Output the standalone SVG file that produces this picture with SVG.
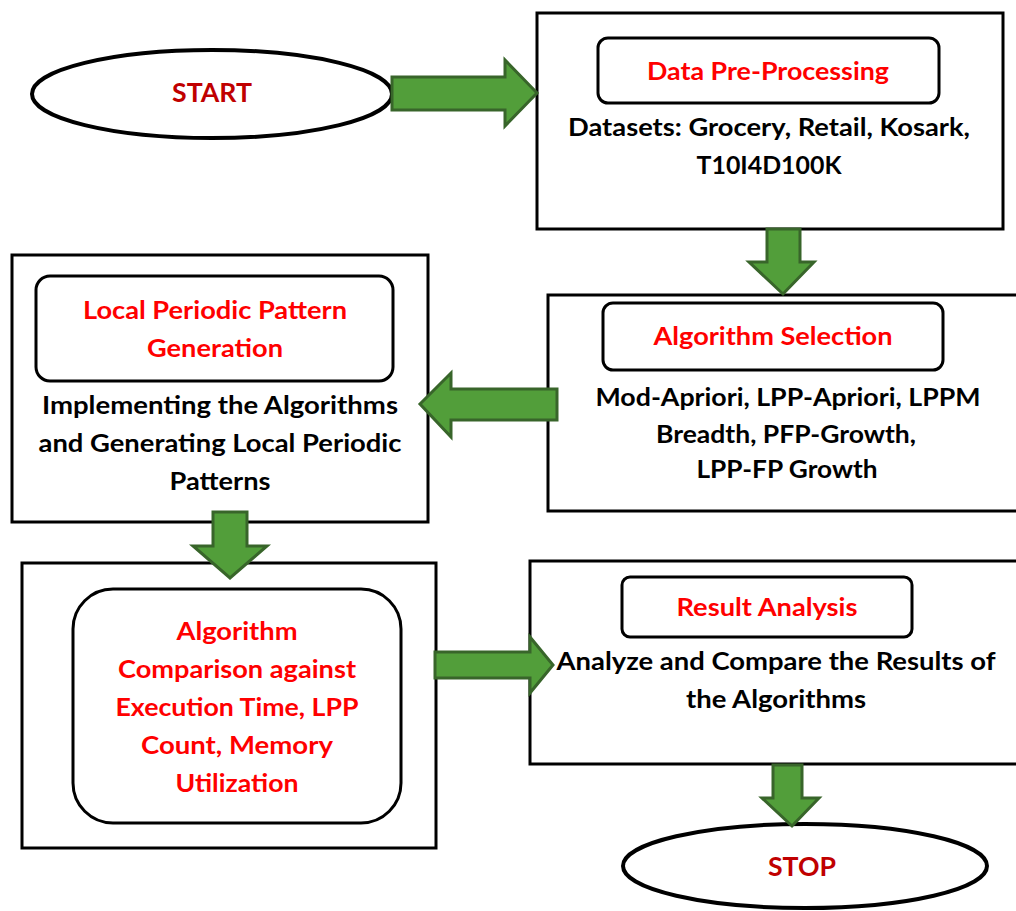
<svg xmlns="http://www.w3.org/2000/svg" width="1016" height="911" viewBox="0 0 1016 911">
<style>
.box{fill:#fff;stroke:#000;stroke-width:3}
.inner{fill:#fff;stroke:#000;stroke-width:3}
.oval{fill:#fff;stroke:#000;stroke-width:4}
.arr{fill:#529E3A;stroke:#38652A;stroke-width:3;stroke-linejoin:miter}
text{font-family:Lato,"Open Sans","Liberation Sans",sans-serif;font-weight:bold;font-size:24px;text-anchor:middle}
.t{fill:#FF0000}
.b{fill:#000}
.d{fill:#C00000;font-size:26px}
</style>
<rect width="1016" height="911" fill="#fff"/>
<g id="start">
<ellipse class="oval" cx="212" cy="94" rx="180" ry="44"/>
<text class="d" x="212" y="102" textLength="80" lengthAdjust="spacingAndGlyphs">START</text>
</g>
<g id="preprocessing">
<rect class="box" x="537" y="13" width="466" height="216"/>
<rect class="inner" x="598" y="38" width="341" height="65" rx="10"/>
<text class="t" x="768" y="80" textLength="242" lengthAdjust="spacingAndGlyphs">Data Pre-Processing</text>
<text class="b" x="769" y="136" textLength="402" lengthAdjust="spacingAndGlyphs">Datasets: Grocery, Retail, Kosark,</text>
<text class="b" x="769" y="174" textLength="145" lengthAdjust="spacingAndGlyphs">T10I4D100K</text>
</g>
<g id="selection">
<rect class="box" x="548" y="295" width="470" height="216"/>
<rect class="inner" x="603" y="303" width="340" height="67" rx="10"/>
<text class="t" x="773" y="345" textLength="239" lengthAdjust="spacingAndGlyphs">Algorithm Selection</text>
<text class="b" x="788" y="406" textLength="385" lengthAdjust="spacingAndGlyphs">Mod-Apriori, LPP-Apriori, LPPM</text>
<text class="b" x="786" y="443" textLength="260" lengthAdjust="spacingAndGlyphs">Breadth, PFP-Growth,</text>
<text class="b" x="787" y="478" textLength="181" lengthAdjust="spacingAndGlyphs">LPP-FP Growth</text>
</g>
<g id="generation">
<rect class="box" x="12" y="255" width="416" height="267"/>
<rect class="inner" x="36" y="276" width="357" height="105" rx="14"/>
<text class="t" x="215" y="319" textLength="264" lengthAdjust="spacingAndGlyphs">Local Periodic Pattern</text>
<text class="t" x="215" y="357" textLength="136" lengthAdjust="spacingAndGlyphs">Generation</text>
<text class="b" x="220" y="414" textLength="356" lengthAdjust="spacingAndGlyphs">Implementing the Algorithms</text>
<text class="b" x="220" y="452" textLength="363" lengthAdjust="spacingAndGlyphs">and Generating Local Periodic</text>
<text class="b" x="220" y="490" textLength="101" lengthAdjust="spacingAndGlyphs">Patterns</text>
</g>
<g id="comparison">
<rect class="box" x="22" y="563" width="414" height="285"/>
<rect class="inner" x="73" y="589" width="328" height="234" rx="40"/>
<text class="t" x="237" y="640" textLength="121" lengthAdjust="spacingAndGlyphs">Algorithm</text>
<text class="t" x="237" y="678" textLength="238" lengthAdjust="spacingAndGlyphs">Comparison against</text>
<text class="t" x="237" y="716" textLength="243" lengthAdjust="spacingAndGlyphs">Execution Time, LPP</text>
<text class="t" x="237" y="754" textLength="192" lengthAdjust="spacingAndGlyphs">Count, Memory</text>
<text class="t" x="237" y="792" textLength="123" lengthAdjust="spacingAndGlyphs">Utilization</text>
</g>
<g id="analysis">
<rect class="box" x="530" y="561" width="488" height="203"/>
<rect class="inner" x="622" y="577" width="290" height="60" rx="8"/>
<text class="t" x="767" y="616" textLength="181" lengthAdjust="spacingAndGlyphs">Result Analysis</text>
<text class="b" x="776" y="670" textLength="439" lengthAdjust="spacingAndGlyphs">Analyze and Compare the Results of</text>
<text class="b" x="776" y="708" textLength="180" lengthAdjust="spacingAndGlyphs">the Algorithms</text>
</g>
<g id="stop">
<ellipse class="oval" cx="805" cy="866" rx="182" ry="42"/>
<text class="d" x="802" y="876" textLength="68" lengthAdjust="spacingAndGlyphs">STOP</text>
</g>
<g id="connectors">
<polygon class="arr" points="392,77 505,77 505,60 537,93 505,126 505,110 392,110"/>
<polygon class="arr" points="767,229 800,229 800,262 814,262 783,294 749,262 767,262"/>
<polygon class="arr" points="557,389 451,389 451,373 420,404 451,437 451,420 557,420"/>
<polygon class="arr" points="213,512 247,512 247,546 267,546 230,578 193,546 213,546"/>
<polygon class="arr" points="435,652 530,652 530,637 553,665 530,693 530,678 435,678"/>
<polygon class="arr" points="773,765 802,765 802,798 819,798 792,826 762,798 773,798"/>
</g>
</svg>
